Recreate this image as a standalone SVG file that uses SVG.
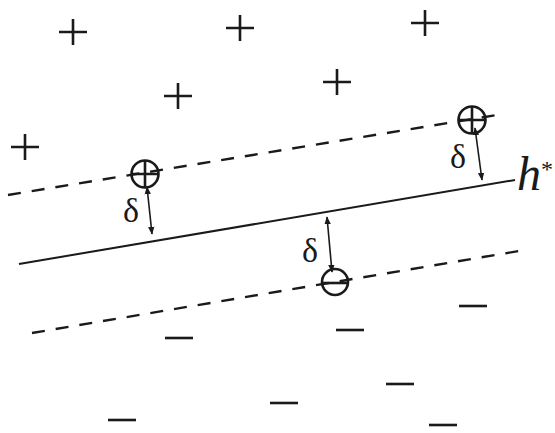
<svg xmlns="http://www.w3.org/2000/svg" width="555" height="433" viewBox="0 0 555 433">
<style>
.sym{stroke:#1a1a1a;stroke-width:2.6;fill:none;stroke-linecap:butt}
.dash{stroke:#1a1a1a;stroke-width:2.4;fill:none;stroke-dasharray:13 11}
.solid{stroke:#1a1a1a;stroke-width:2;fill:none}
.arr{stroke:#1a1a1a;stroke-width:1.6;fill:none;marker-start:url(#ah);marker-end:url(#ah)}
.lbl{font-family:"Liberation Serif",serif;fill:#1a1a1a}
</style>
<defs>
<marker id="ah" viewBox="0 0 10 10" refX="9" refY="5" markerWidth="8" markerHeight="8" orient="auto-start-reverse" markerUnits="userSpaceOnUse">
<path d="M0,1 L10,5 L0,9 z" fill="#1a1a1a"/>
</marker>
<g id="plus"><path class="sym" d="M-14,0 H14 M0,-13 V13"/></g>
<g id="minus"><path class="sym" d="M-14,0 H14"/></g>
</defs>
<rect width="555" height="433" fill="#fff"/>
<g id="lines">
<line id="upper-margin" class="dash" x1="8" y1="195" x2="503" y2="114"/>
<line id="hyperplane" class="solid" x1="19" y1="264" x2="515" y2="180"/>
<line id="lower-margin" class="dash" x1="32" y1="333" x2="525" y2="250"/>
</g>
<g id="positives">
<use href="#plus" x="73" y="32"/>
<use href="#plus" x="240" y="28"/>
<use href="#plus" x="425" y="23"/>
<use href="#plus" x="178" y="96"/>
<use href="#plus" x="337" y="82"/>
<use href="#plus" x="25" y="147"/>
</g>
<g id="negatives">
<use href="#minus" x="179" y="338"/>
<use href="#minus" x="350" y="330"/>
<use href="#minus" x="473" y="306"/>
<use href="#minus" x="400" y="384"/>
<use href="#minus" x="284" y="403"/>
<use href="#minus" x="122" y="420"/>
<use href="#minus" x="443" y="425"/>
</g>
<g id="sv1">
<circle class="sym" cx="145" cy="174" r="13.5"/>
<path class="sym" d="M131.5,174 H158.5 M145,160.5 V187.5"/>
</g>
<g id="sv2">
<circle class="sym" cx="472" cy="120" r="13.5"/>
<path class="sym" d="M458.5,120 H485.5 M472,106.5 V133.5"/>
</g>
<g id="sv3">
<circle class="sym" cx="335" cy="282" r="13"/>
<path class="sym" d="M322,283 H348"/>
</g>
<g id="connectors">
<line class="arr" x1="147" y1="187" x2="152" y2="234"/>
<line class="arr" x1="475" y1="128" x2="482" y2="180"/>
<line class="arr" x1="327" y1="217" x2="332" y2="272"/>
</g>
<g id="labels">
<text class="lbl" x="123" y="222" font-size="34">δ</text>
<text class="lbl" x="450" y="168" font-size="34">δ</text>
<text class="lbl" x="302" y="262" font-size="34">δ</text>
<text class="lbl" x="517" y="190" font-size="48"><tspan font-style="italic">h</tspan><tspan font-size="24" dy="-13">*</tspan></text>
</g>
</svg>
